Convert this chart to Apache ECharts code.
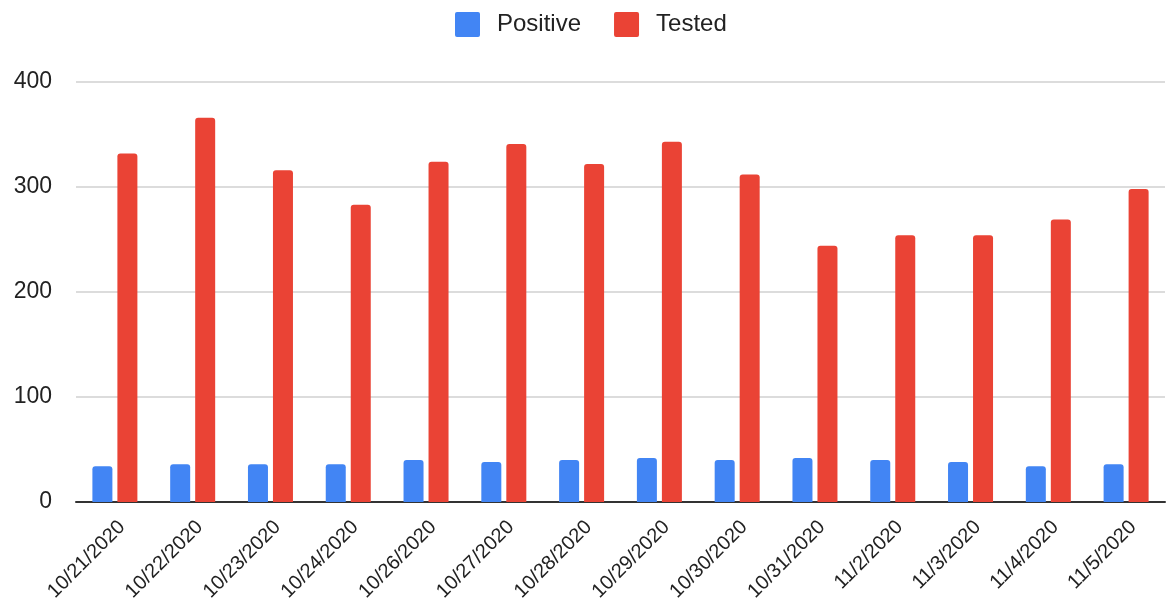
<!DOCTYPE html>
<html>
<head>
<meta charset="utf-8">
<script src="https://cdn.jsdelivr.net/npm/echarts@6/dist/echarts.min.js"></script>
<style>
html,body{margin:0;padding:0;background:#fff;}
#chart{width:1172px;height:605px;}
</style>
</head>
<body>
<div id="chart"></div>
<script>
const categories = ['10/21/2020','10/22/2020','10/23/2020','10/24/2020','10/26/2020','10/27/2020','10/28/2020','10/29/2020','10/30/2020','10/31/2020','11/2/2020','11/3/2020','11/4/2020','11/5/2020'];
const positive = [34,36,36,36,40,38,40,42,40,42,40,38,34,36];
const tested = [332,366,316,283,324,341,322,343,312,244,254,254,269,298];
const yTicks = [0,100,200,300,400];

const chart = echarts.init(document.getElementById('chart'));
const font = '"Liberation Sans", Arial, sans-serif';
const sq = 'path://M2,0 H23 Q25,0 25,2 V23 Q25,25 23,25 H2 Q0,25 0,23 V2 Q0,0 2,0 Z';
chart.setOption({
  animation: false,
  textStyle: {fontFamily: font},
  legend: {
    top: 7,
    left: 450,
    itemWidth: 25,
    itemHeight: 25,
    itemGap: 33,
    icon: sq,
    textStyle: {fontSize: 24, color: '#222', fontFamily: font, padding: [0,0,0,12]},
    data: ['Positive','Tested']
  },
  grid: {left: 76, right: 7, top: 82, bottom: 103},
  xAxis: {
    type: 'category',
    data: categories,
    axisTick: {show: false},
    axisLine: {lineStyle: {color: '#333', width: 2}},
    axisLabel: {rotate: 45, fontSize: 20, color: '#222', margin: 15, verticalAlign: 'top', fontFamily: font, interval: 0}
  },
  yAxis: {
    type: 'value',
    min: yTicks[0],
    max: yTicks[yTicks.length-1],
    interval: 100,
    axisLine: {show: false},
    axisTick: {show: false},
    axisLabel: {fontSize: 23, color: '#222', margin: 24, fontFamily: font},
    splitLine: {lineStyle: {color: '#d0d0d0', width: 1.5}}
  },
  series: [
    {name: 'Positive', type: 'bar', data: positive, barWidth: 20, barGap: '25%',
     itemStyle: {color: '#4285F4', borderRadius: [3,3,0,0]}},
    {name: 'Tested', type: 'bar', data: tested, barWidth: 20,
     itemStyle: {color: '#EA4335', borderRadius: [3,3,0,0]}}
  ]
});
</script>
</body>
</html>
